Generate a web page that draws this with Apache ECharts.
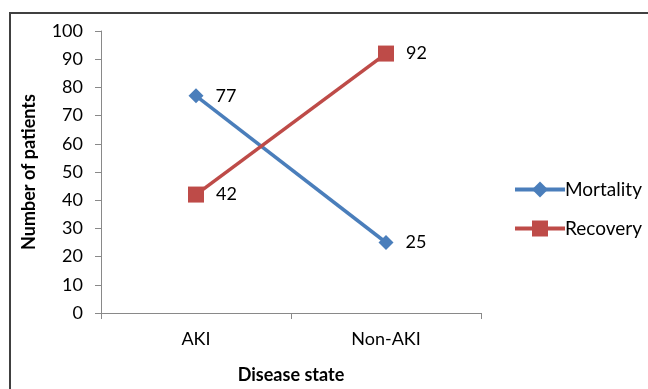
<!DOCTYPE html>
<html>
<head>
<meta charset="utf-8">
<script src="https://cdn.jsdelivr.net/npm/echarts@6/dist/echarts.min.js"></script>
<style>html,body{margin:0;padding:0;background:#fff}#c{width:648px;height:389px}</style>
</head>
<body>
<div id="c"></div>
<script>
var categories = ['AKI', 'Non-AKI'];
var mortality = [77, 25];
var recovery = [42, 92];
var yTicks = [0, 10, 20, 30, 40, 50, 60, 70, 80, 90, 100];

var FONT = 'Lato, "Open Sans", sans-serif';
var chart = echarts.init(document.getElementById('c'), null, {renderer: 'canvas'});
chart.setOption({
  animation: false,
  backgroundColor: '#fff',
  textStyle: {fontFamily: FONT},
  graphic: [{
    type: 'polyline',
    shape: {points: [[10, 400], [10, 13], [660, 13]]},
    style: {stroke: '#404040', lineWidth: 2, fill: null},
    silent: true
  }],
  grid: {left: 101, top: 31, right: 167, bottom: 76, containLabel: false},
  legend: {
    orient: 'vertical',
    left: 508,
    top: 175,
    itemGap: 20,
    itemWidth: 50,
    itemHeight: 20,
    lineStyle: {width: 4},
    textStyle: {fontFamily: FONT, fontSize: 19, color: '#000', padding: [0, 0, 0, -5]},
    data: ['Mortality', 'Recovery']
  },
  xAxis: {
    type: 'category',
    data: categories,
    boundaryGap: true,
    name: 'Disease state',
    nameLocation: 'middle',
    nameGap: 53,
    nameTextStyle: {fontFamily: FONT, fontSize: 18, fontWeight: 'bold', color: '#000'},
    axisLine: {lineStyle: {color: '#898989', width: 1}},
    axisTick: {show: true, length: 6, lineStyle: {color: '#898989'}},
    axisLabel: {fontFamily: FONT, fontSize: 18, color: '#000', margin: 17}
  },
  yAxis: {
    type: 'value',
    min: 0,
    max: 100,
    interval: 10,
    name: 'Number of patients',
    nameLocation: 'middle',
    nameGap: 63,
    nameTextStyle: {fontFamily: FONT, fontSize: 18, fontWeight: 'bold', color: '#000'},
    axisLine: {show: true, lineStyle: {color: '#898989', width: 1}},
    axisTick: {show: true, length: 6, lineStyle: {color: '#898989'}},
    splitLine: {show: false},
    axisLabel: {fontFamily: FONT, fontSize: 18, color: '#000', margin: 18,
      formatter: function (v) { return yTicks.indexOf(v) >= 0 ? String(v) : ''; }}
  },
  series: [
    {
      name: 'Mortality',
      type: 'line',
      data: mortality,
      symbol: 'diamond',
      symbolSize: 15,
      lineStyle: {color: '#4A7EBB', width: 3.5},
      itemStyle: {color: '#4A7EBB'},
      label: {show: true, position: 'right', distance: 12, fontFamily: FONT, fontSize: 18, color: '#000'}
    },
    {
      name: 'Recovery',
      type: 'line',
      data: recovery,
      symbol: 'rect',
      symbolSize: 16,
      lineStyle: {color: '#BE4B48', width: 3.5},
      itemStyle: {color: '#BE4B48'},
      label: {show: true, position: 'right', distance: 12, fontFamily: FONT, fontSize: 18, color: '#000'}
    }
  ]
});
</script>
</body>
</html>
